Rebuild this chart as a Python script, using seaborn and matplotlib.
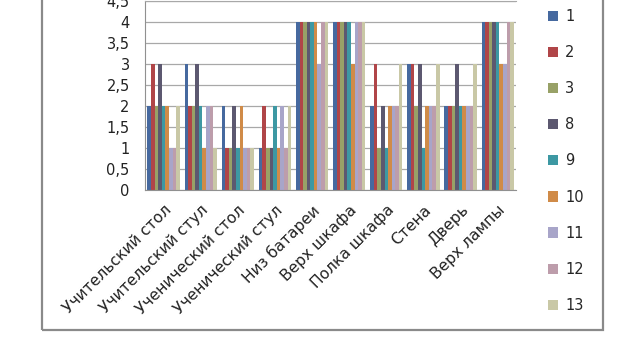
import matplotlib
matplotlib.use("Agg")
import matplotlib.pyplot as plt
from matplotlib.patches import Rectangle, Patch
from matplotlib.ticker import MultipleLocator, FixedLocator
import seaborn as sns
import pandas as pd

categories = ["Учительский стол", "Учительский стул", "Ученический стол",
              "Ученический стул", "Низ батареи", "Верх шкафа", "Полка шкафа",
              "Стена", "Дверь", "Верх лампы"]
series_names = ["1", "2", "3", "8", "9", "10", "11", "12", "13"]
s1 = [2, 3, 2, 1, 4, 4, 2, 3, 2, 4]
s2 = [3, 2, 1, 2, 4, 4, 3, 3, 2, 4]
s3 = [2, 2, 1, 1, 4, 4, 1, 2, 2, 4]
s8 = [3, 3, 2, 1, 4, 4, 2, 3, 3, 4]
s9 = [2, 2, 1, 2, 4, 4, 1, 1, 2, 4]
s10 = [2, 1, 2, 1, 4, 3, 2, 2, 2, 3]
s11 = [1, 2, 1, 2, 3, 4, 2, 2, 2, 3]
s12 = [1, 2, 1, 1, 4, 4, 2, 2, 2, 4]
s13 = [2, 1, 1, 2, 4, 4, 3, 3, 3, 4]
values = [s1, s2, s3, s8, s9, s10, s11, s12, s13]
colors = ["#46699f", "#b04548", "#98a167", "#5c5870", "#3d98a3",
          "#d08b48", "#a8a5c9", "#bd9dab", "#c9c8a6"]

rows = []
for name, vals in zip(series_names, values):
    for c, v in zip(categories, vals):
        rows.append({"cat": c, "series": name, "value": v})
df = pd.DataFrame(rows)

sns.set_style("white")
plt.rcParams["font.family"] = ["DejaVu Sans"]

fig = plt.figure(figsize=(6.4, 3.6), dpi=100)
fig.patch.set_facecolor("white")
# outer chart frame
fig.patches.append(Rectangle((0.066, 0.083), 0.876, 1.0, transform=fig.transFigure,
                             fill=False, edgecolor="#8a8a8a", linewidth=1.6, zorder=0))

ax = fig.add_axes([0.2266, 0.472, 0.58, 0.525])
sns.barplot(data=df, x="cat", y="value", hue="series", hue_order=series_names,
            order=categories, palette=colors, width=0.87, gap=0, dodge=True,
            saturation=1, ax=ax, legend=False, errorbar=None,
            linewidth=0, edgecolor="none")

ax.set_ylim(0, 4.5)
ax.set_xlim(-0.5, len(categories) - 0.5)
ax.yaxis.set_major_locator(MultipleLocator(0.5))
ax.set_yticklabels([f"{t:g}".replace(".", ",") for t in ax.get_yticks()])
ax.grid(axis="y", color="#a8a8a8", linewidth=0.9)
ax.set_axisbelow(True)
ax.spines["right"].set_visible(False)
ax.spines["top"].set_color("#a8a8a8")
ax.spines["left"].set_color("#909090")
ax.spines["bottom"].set_color("#909090")
ax.tick_params(axis="y", length=4, color="#909090", labelsize=10.5, labelcolor="#222222", pad=7)
ax.xaxis.set_minor_locator(FixedLocator([i - 0.5 for i in range(len(categories) + 1)]))
ax.tick_params(axis="x", which="major", length=0, pad=9)
ax.tick_params(axis="x", which="minor", length=4, color="#909090")
ax.set_xticks(range(len(categories)))
ax.set_xticklabels(categories, rotation=45, ha="right", va="top",
                   rotation_mode="anchor", fontsize=11.2, color="#222222")
ax.set_xlabel("")
ax.set_ylabel("")

handles = [Patch(facecolor=c, edgecolor="none") for c in colors]
fig.legend(handles, series_names, loc="upper left", bbox_to_anchor=(0.835, 1.012),
           frameon=False, handlelength=0.7, handleheight=0.7, handletextpad=0.5,
           labelspacing=1.45, fontsize=10.5)

fig.savefig("out.png", dpi=100, facecolor="white")
